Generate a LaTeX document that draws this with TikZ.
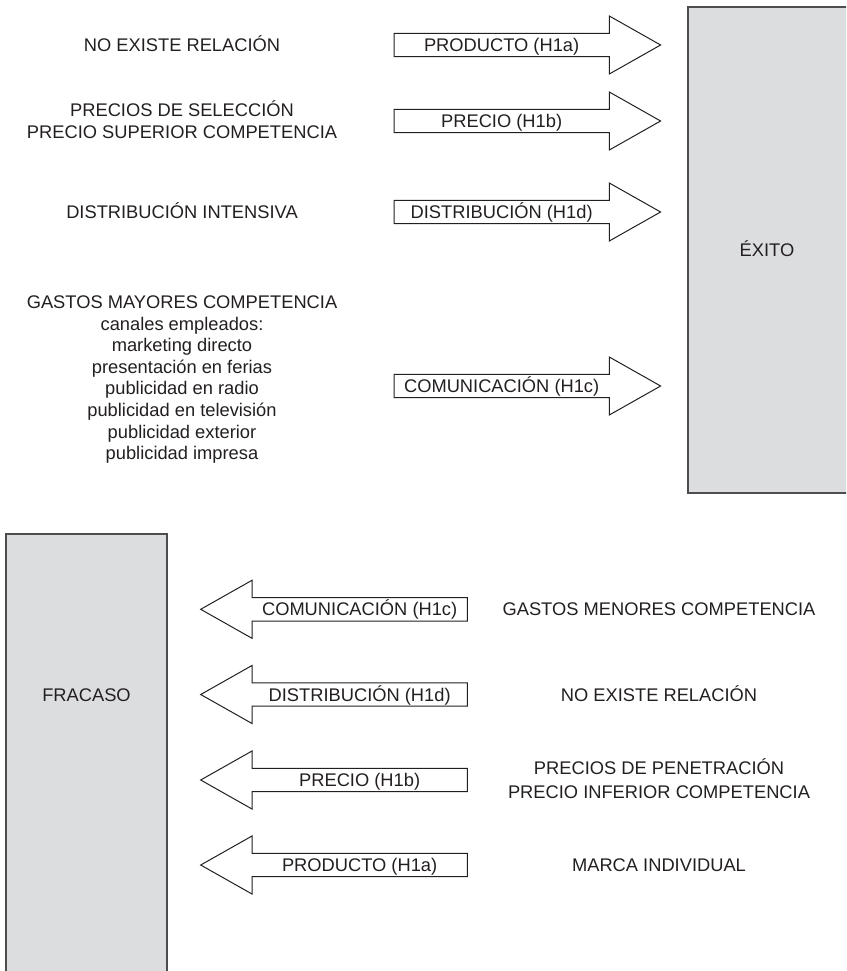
\documentclass[tikz,border=0pt]{standalone}
\usepackage{fontspec}
\setmainfont{Liberation Sans}
\definecolor{boxgray}{HTML}{DCDDDF}
\definecolor{boxline}{HTML}{4D4D4F}
\definecolor{ink}{HTML}{231F20}
% outline of a block arrow round a shaft node
\newcommand{\headright}[1]{\draw[arrowline] (#1.south west) -- (#1.north west) -- (#1.north east) -- ([yshift=17.3pt]#1.north east) -- ([xshift=51.3pt]#1.east) -- ([yshift=-17.3pt]#1.south east) -- (#1.south east) -- cycle;}
\newcommand{\headleft}[1]{\draw[arrowline] (#1.south east) -- (#1.north east) -- (#1.north west) -- ([yshift=17.3pt]#1.north west) -- ([xshift=-51.3pt]#1.west) -- ([yshift=-17.3pt]#1.south west) -- (#1.south west) -- cycle;}

\begin{document}
\begin{tikzpicture}[x=1pt, y=-1pt,
	txt/.style={font=\fontsize{18.3}{21.6}\selectfont, text=ink, align=center, anchor=base, inner sep=0pt},
	bigbox/.style={draw=boxline, line width=1.5pt, fill=boxgray, anchor=north west, inner sep=0pt, outer sep=0pt},
	shaft/.style={font=\fontsize{18.3}{21.6}\selectfont, text=ink, minimum width=215.3pt,
		text height=18.2pt, text depth=5.2pt, inner sep=0pt, outer sep=0pt},
	arrowline/.style={draw=ink, line width=1pt, line join=miter}]
	\useasboundingbox (0,0) rectangle (846,971);
	\clip (0,0) rectangle (846,971);
	% the two outcome boxes
	\node[bigbox, minimum width=175pt, minimum height=486pt] (exito) at (688,7) {};
	\node[bigbox, minimum width=161pt, minimum height=460pt] (fracaso) at (6,534) {};
	\node[txt] (exitolab) at (767,256.5) {ÉXITO};
	\node[txt] (fracasolab) at (86.5,701) {FRACASO};
	% upper half: what leads to success
	\node[shaft, anchor=west] (prodA) at (394,45) {PRODUCTO (H1a)};
	\node[shaft, anchor=west] (precA) at (394,121) {PRECIO (H1b)};
	\node[shaft, anchor=west] (distA) at (394,212) {DISTRIBUCIÓN (H1d)};
	\node[shaft, anchor=west] (comA) at (394,386) {COMUNICACIÓN (H1c)};
	\headright{prodA}
	\headright{precA}
	\headright{distA}
	\headright{comA}
	\node[txt] (relA) at (182,51.5) {NO EXISTE RELACIÓN};
	\node[txt] (selec) at (182,138.5) {PRECIOS DE SELECCIÓN\\PRECIO SUPERIOR COMPETENCIA};
	\node[txt] (intens) at (182,218.5) {DISTRIBUCIÓN INTENSIVA};
	\node[txt] (mayores) at (182,459.7) {GASTOS MAYORES COMPETENCIA\\canales empleados:\\marketing directo\\presentación en ferias\\publicidad en radio\\publicidad en televisión\\publicidad exterior\\publicidad impresa};
	% lower half: what leads to failure
	\node[shaft, anchor=east] (comB) at (467.3,609.3) {COMUNICACIÓN (H1c)};
	\node[shaft, anchor=east] (distB) at (467.3,694.5) {DISTRIBUCIÓN (H1d)};
	\node[shaft, anchor=east] (precB) at (467.3,780) {PRECIO (H1b)};
	\node[shaft, anchor=east] (prodB) at (467.3,865) {PRODUCTO (H1a)};
	\headleft{comB}
	\headleft{distB}
	\headleft{precB}
	\headleft{prodB}
	\node[txt] (menores) at (659,615.8) {GASTOS MENORES COMPETENCIA};
	\node[txt] (relB) at (659,701) {NO EXISTE RELACIÓN};
	\node[txt, font=\fontsize{18.3}{23.4}\selectfont] (penet) at (659,798.2) {PRECIOS DE PENETRACIÓN\\PRECIO INFERIOR COMPETENCIA};
	\node[txt] (marca) at (659,871.5) {MARCA INDIVIDUAL};
\end{tikzpicture}
\end{document}
